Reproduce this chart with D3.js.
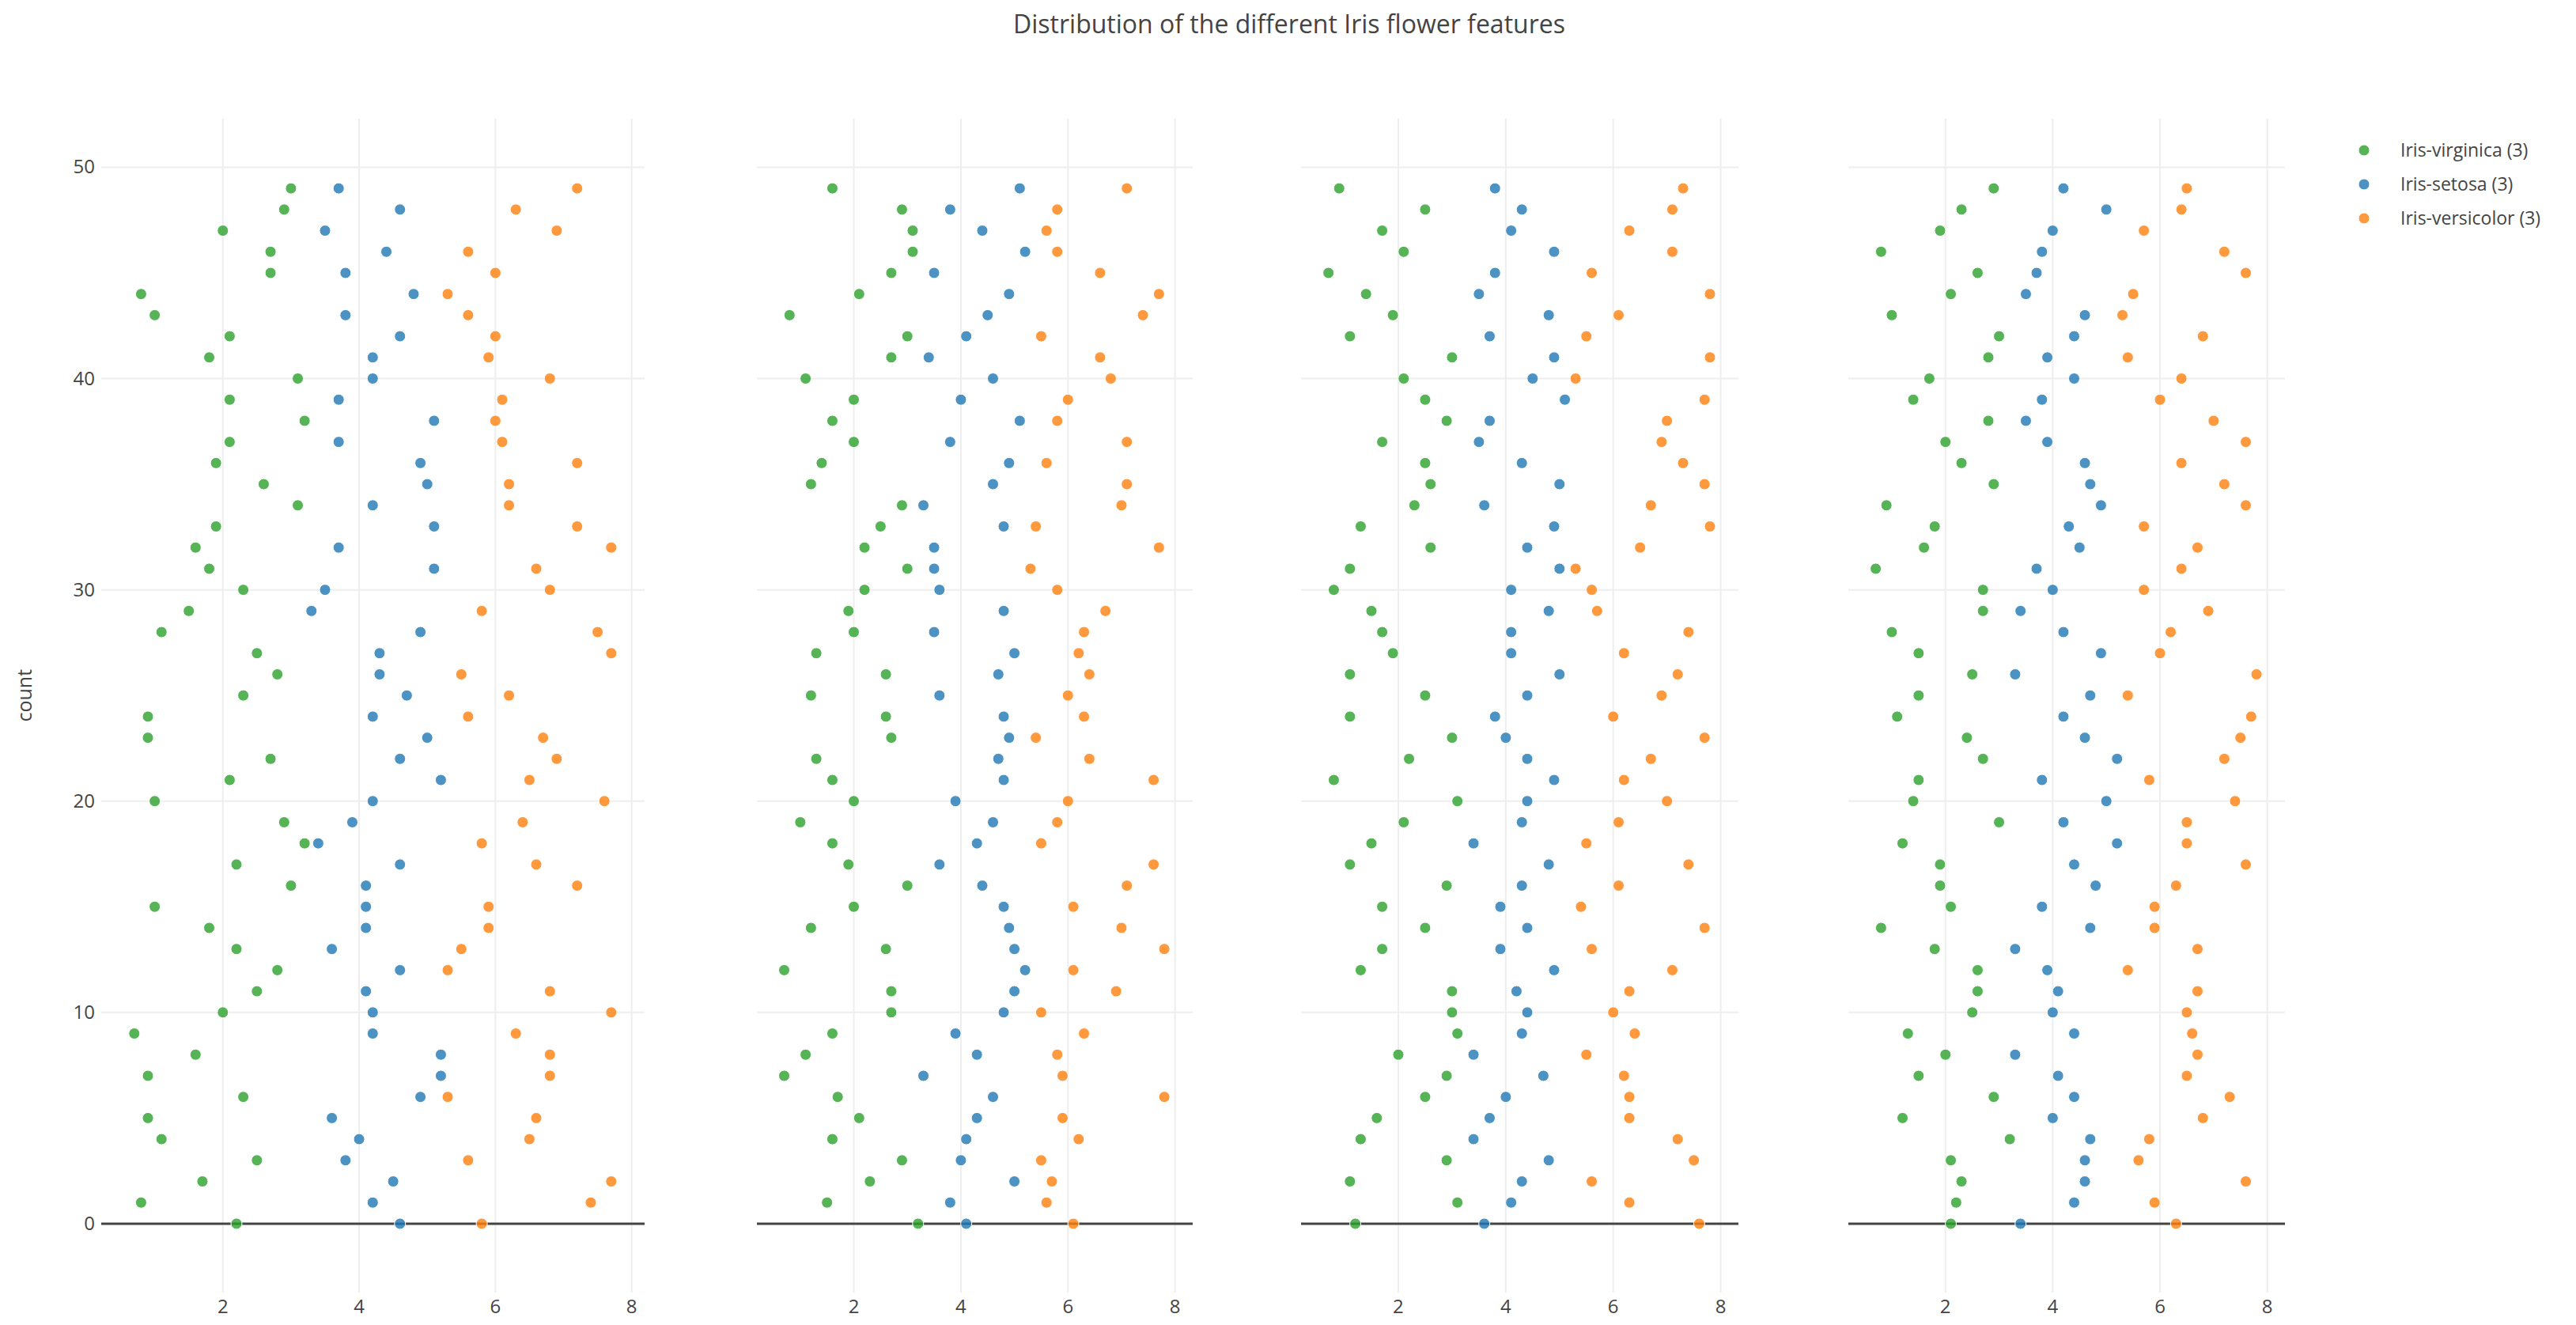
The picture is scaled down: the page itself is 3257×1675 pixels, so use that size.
<!DOCTYPE html>
<html>
<head>
<meta charset="utf-8">
<script src="https://d3js.org/d3.v7.min.js"></script>
<style>
  body { margin: 0; background: #fff; }
  text { font-family: "Open Sans", "Noto Sans", sans-serif; fill: #444; }
</style>
</head>
<body>
<div id="wrapper"></div>
<script>
// counts from top (49) down to 0, one value per row
const counts = d3.range(49, -1, -1);
const species = ["Iris-virginica", "Iris-setosa", "Iris-versicolor"];
const speciesColors = ["#2ca02c", "#1f77b4", "#ff7f0e"];
const xTicks = [2, 4, 6, 8];
const yTicks = [0, 10, 20, 30, 40, 50];

const p1Virginica = [3.0,2.9,2.0,2.7,2.7,0.8,1.0,2.1,1.8,3.1, 2.1,3.2,2.1,1.9,2.6,3.1,1.9,1.6,1.8,2.3, 1.5,1.1,2.5,2.8,2.3,0.9,0.9,2.7,2.1,1.0, 2.9,3.2,2.2,3.0,1.0,1.8,2.2,2.8,2.5,2.0, 0.7,1.6,0.9,2.3,0.9,1.1,2.5,1.7,0.8,2.2];
const p1Setosa = [3.7,4.6,3.5,4.4,3.8,4.8,3.8,4.6,4.2,4.2, 3.7,5.1,3.7,4.9,5.0,4.2,5.1,3.7,5.1,3.5, 3.3,4.9,4.3,4.3,4.7,4.2,5.0,4.6,5.2,4.2, 3.9,3.4,4.6,4.1,4.1,4.1,3.6,4.6,4.1,4.2, 4.2,5.2,5.2,4.9,3.6,4.0,3.8,4.5,4.2,4.6];
const p1Versicolor = [7.2,6.3,6.9,5.6,6.0,5.3,5.6,6.0,5.9,6.8, 6.1,6.0,6.1,7.2,6.2,6.2,7.2,7.7,6.6,6.8, 5.8,7.5,7.7,5.5,6.2,5.6,6.7,6.9,6.5,7.6, 6.4,5.8,6.6,7.2,5.9,5.9,5.5,5.3,6.8,7.7, 6.3,6.8,6.8,5.3,6.6,6.5,5.6,7.7,7.4,5.8];

const p2Virginica = [1.6,2.9,3.1,3.1,2.7,2.1,0.8,3.0,2.7,1.1, 2.0,1.6,2.0,1.4,1.2,2.9,2.5,2.2,3.0,2.2, 1.9,2.0,1.3,2.6,1.2,2.6,2.7,1.3,1.6,2.0, 1.0,1.6,1.9,3.0,2.0,1.2,2.6,0.7,2.7,2.7, 1.6,1.1,0.7,1.7,2.1,1.6,2.9,2.3,1.5,3.2];
const p2Setosa = [5.1,3.8,4.4,5.2,3.5,4.9,4.5,4.1,3.4,4.6, 4.0,5.1,3.8,4.9,4.6,3.3,4.8,3.5,3.5,3.6, 4.8,3.5,5.0,4.7,3.6,4.8,4.9,4.7,4.8,3.9, 4.6,4.3,3.6,4.4,4.8,4.9,5.0,5.2,5.0,4.8, 3.9,4.3,3.3,4.6,4.3,4.1,4.0,5.0,3.8,4.1];
const p2Versicolor = [7.1,5.8,5.6,5.8,6.6,7.7,7.4,5.5,6.6,6.8, 6.0,5.8,7.1,5.6,7.1,7.0,5.4,7.7,5.3,5.8, 6.7,6.3,6.2,6.4,6.0,6.3,5.4,6.4,7.6,6.0, 5.8,5.5,7.6,7.1,6.1,7.0,7.8,6.1,6.9,5.5, 6.3,5.8,5.9,7.8,5.9,6.2,5.5,5.7,5.6,6.1];

const p3Virginica = [0.9,2.5,1.7,2.1,0.7,1.4,1.9,1.1,3.0,2.1, 2.5,2.9,1.7,2.5,2.6,2.3,1.3,2.6,1.1,0.8, 1.5,1.7,1.9,1.1,2.5,1.1,3.0,2.2,0.8,3.1, 2.1,1.5,1.1,2.9,1.7,2.5,1.7,1.3,3.0,3.0, 3.1,2.0,2.9,2.5,1.6,1.3,2.9,1.1,3.1,1.2];
const p3Setosa = [3.8,4.3,4.1,4.9,3.8,3.5,4.8,3.7,4.9,4.5, 5.1,3.7,3.5,4.3,5.0,3.6,4.9,4.4,5.0,4.1, 4.8,4.1,4.1,5.0,4.4,3.8,4.0,4.4,4.9,4.4, 4.3,3.4,4.8,4.3,3.9,4.4,3.9,4.9,4.2,4.4, 4.3,3.4,4.7,4.0,3.7,3.4,4.8,4.3,4.1,3.6];
const p3Versicolor = [7.3,7.1,6.3,7.1,5.6,7.8,6.1,5.5,7.8,5.3, 7.7,7.0,6.9,7.3,7.7,6.7,7.8,6.5,5.3,5.6, 5.7,7.4,6.2,7.2,6.9,6.0,7.7,6.7,6.2,7.0, 6.1,5.5,7.4,6.1,5.4,7.7,5.6,7.1,6.3,6.0, 6.4,5.5,6.2,6.3,6.3,7.2,7.5,5.6,6.3,7.6];

const p4Virginica = [2.9,2.3,1.9,0.8,2.6,2.1,1.0,3.0,2.8,1.7, 1.4,2.8,2.0,2.3,2.9,0.9,1.8,1.6,0.7,2.7, 2.7,1.0,1.5,2.5,1.5,1.1,2.4,2.7,1.5,1.4, 3.0,1.2,1.9,1.9,2.1,0.8,1.8,2.6,2.6,2.5, 1.3,2.0,1.5,2.9,1.2,3.2,2.1,2.3,2.2,2.1];
const p4Setosa = [4.2,5.0,4.0,3.8,3.7,3.5,4.6,4.4,3.9,4.4, 3.8,3.5,3.9,4.6,4.7,4.9,4.3,4.5,3.7,4.0, 3.4,4.2,4.9,3.3,4.7,4.2,4.6,5.2,3.8,5.0, 4.2,5.2,4.4,4.8,3.8,4.7,3.3,3.9,4.1,4.0, 4.4,3.3,4.1,4.4,4.0,4.7,4.6,4.6,4.4,3.4];
const p4Versicolor = [6.5,6.4,5.7,7.2,7.6,5.5,5.3,6.8,5.4,6.4, 6.0,7.0,7.6,6.4,7.2,7.6,5.7,6.7,6.4,5.7, 6.9,6.2,6.0,7.8,5.4,7.7,7.5,7.2,5.8,7.4, 6.5,6.5,7.6,6.3,5.9,5.9,6.7,5.4,6.7,6.5, 6.6,6.7,6.5,7.3,6.8,5.8,5.6,7.6,5.9,6.3];

const panelsData = [
  [p1Virginica, p1Setosa, p1Versicolor],
  [p2Virginica, p2Setosa, p2Versicolor],
  [p3Virginica, p3Setosa, p3Versicolor],
  [p4Virginica, p4Setosa, p4Versicolor],
];

const width = 3257, height = 1675;
const panels = [
  { left: 128, right: 815, domain: [0.215, 8.19] },
  { left: 957, right: 1508, domain: [0.19, 8.33] },
  { left: 1645, right: 2198, domain: [0.19, 8.33] },
  { left: 2337, right: 2889, domain: [0.19, 8.33] },
];
const plotTop = 150, plotBottom = 1634;

const svg = d3.select("#wrapper").append("svg")
  .attr("width", width).attr("height", height);

const y = d3.scaleLinear().domain([-3.26, 52.3]).range([plotBottom, plotTop]);

svg.append("text")
  .attr("x", 1630).attr("y", 42)
  .attr("text-anchor", "middle")
  .style("font-size", "32px")
  .text("Distribution of the different Iris flower features");

svg.append("text")
  .attr("transform", `translate(40,${y(25)}) rotate(-90)`)
  .attr("text-anchor", "middle")
  .style("font-size", "25px")
  .text("count");

panels.forEach((p, pi) => {
  const x = d3.scaleLinear().domain(p.domain).range([p.left, p.right]);
  const g = svg.append("g");

  g.selectAll(".vgrid").data(xTicks).enter().append("line")
    .attr("x1", d => x(d)).attr("x2", d => x(d))
    .attr("y1", plotTop).attr("y2", plotBottom)
    .attr("stroke", "#eee").attr("stroke-width", 2);

  g.selectAll(".hgrid").data(yTicks.slice(1)).enter().append("line")
    .attr("x1", p.left).attr("x2", p.right)
    .attr("y1", d => y(d)).attr("y2", d => y(d))
    .attr("stroke", "#eee").attr("stroke-width", 2);

  g.append("line")
    .attr("x1", p.left).attr("x2", p.right)
    .attr("y1", y(0)).attr("y2", y(0))
    .attr("stroke", "#444").attr("stroke-width", 3);

  g.selectAll(".xlab").data(xTicks).enter().append("text")
    .attr("x", d => x(d)).attr("y", 1660)
    .attr("text-anchor", "middle")
    .style("font-size", "24px")
    .text(d => d);

  if (pi === 0) {
    g.selectAll(".ylab").data(yTicks).enter().append("text")
      .attr("x", 120).attr("y", d => y(d) + 8)
      .attr("text-anchor", "end")
      .style("font-size", "24px")
      .text(d => d);
  }

  panelsData[pi].forEach((vals, si) => {
    g.selectAll(null).data(vals).enter().append("circle")
      .attr("cx", d => x(d))
      .attr("cy", (d, i) => y(counts[i]))
      .attr("r", 7)
      .attr("fill", speciesColors[si])
      .attr("fill-opacity", 0.8)
      .attr("stroke", "#fff")
      .attr("stroke-width", 1);
  });
});

const legend = svg.append("g");
species.forEach((s, i) => {
  const ly = 190 + i * 43;
  legend.append("circle")
    .attr("cx", 2989).attr("cy", ly).attr("r", 7)
    .attr("fill", speciesColors[i]).attr("fill-opacity", 0.8)
    .attr("stroke", "#fff").attr("stroke-width", 1);
  legend.append("text")
    .attr("x", 3035).attr("y", ly + 8)
    .style("font-size", "23px")
    .text(`${s} (3)`);
});
</script>
</body>
</html>
